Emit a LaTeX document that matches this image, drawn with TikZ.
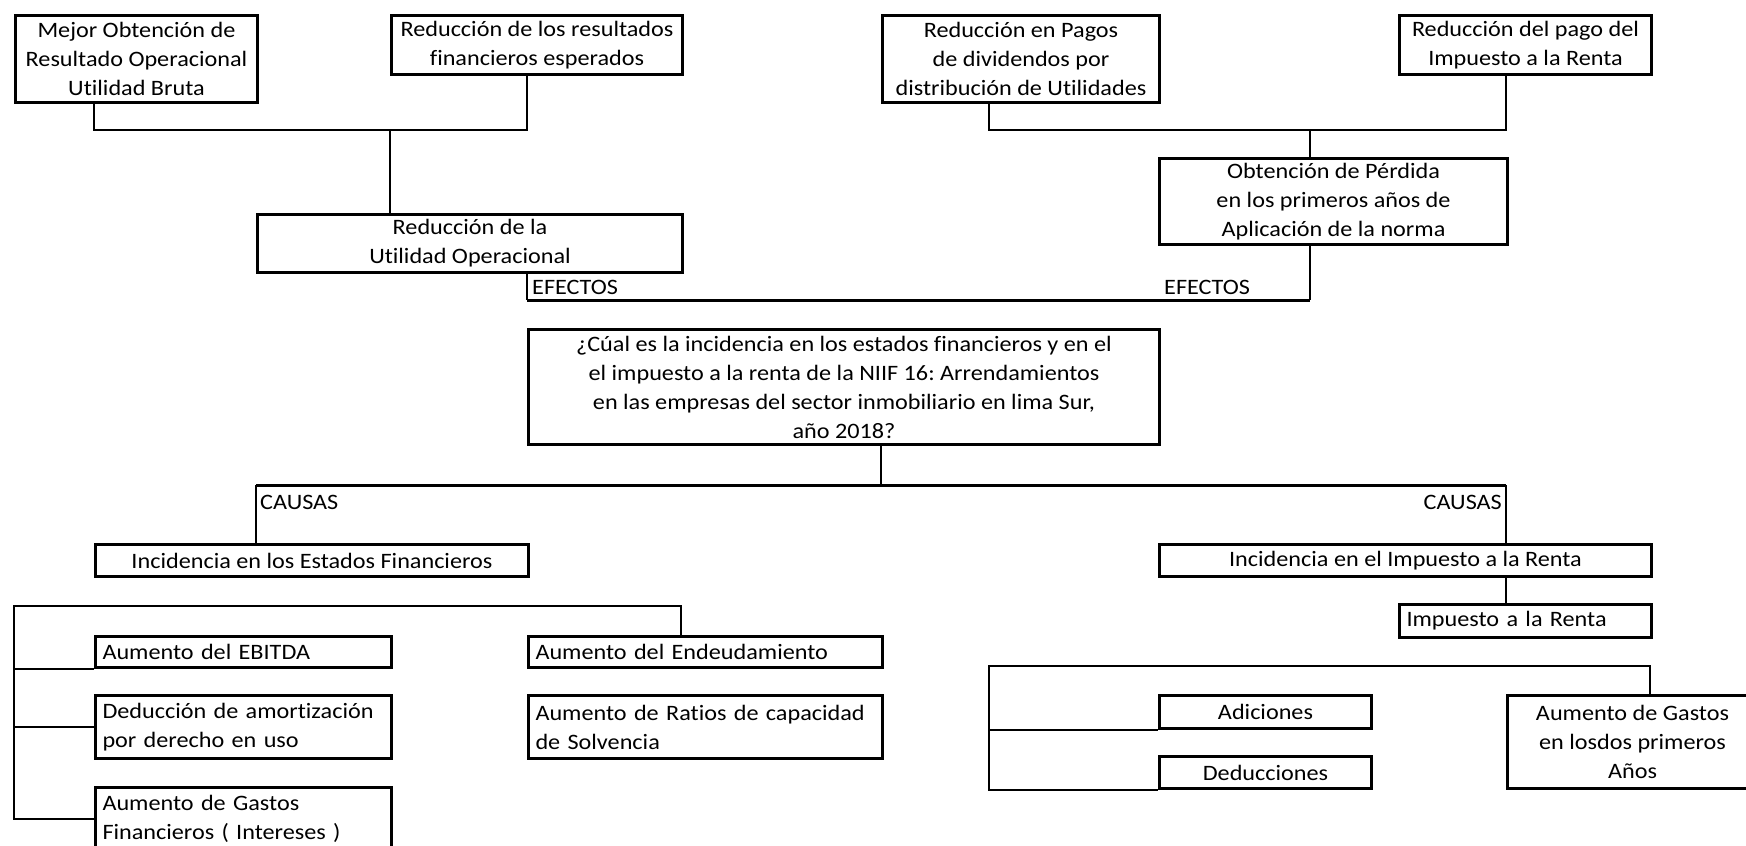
\documentclass[tikz,border=0pt]{standalone}
\usepackage{fontspec}
\setmainfont{Carlito}[FakeStretch=1.1, Ligatures=NoCommon]
\usepackage{tikz}
\frenchspacing

\begin{document}
\begin{tikzpicture}[x=1pt,y=-1pt,
    every node/.style={font=\fontsize{22}{29}\selectfont},
    caja/.style={draw, line width=3pt, anchor=north west, inner sep=0pt, align=center},
    izq/.style={caja, align=left, inner xsep=7pt},
    linea/.style={line width=1.8pt},
    grueso/.style={line width=3pt},
    etq/.style={inner sep=2pt}]
  \useasboundingbox (0,0) rectangle (1746,846);
  \clip (0,0) rectangle (1746,846);
  % efectos
  \node[caja, minimum width=242pt, minimum height=87pt] (A) at (14,14) {Mejor Obtención de\\Resultado Operacional\\Utilidad Bruta};
  \node[caja, minimum width=291pt, minimum height=59pt] (B) at (390,14) {Reducción de los resultados\\financieros esperados};
  \node[caja, minimum width=277pt, minimum height=87pt] (C) at (881,14) {Reducción en Pagos\\de dividendos por\\distribución de Utilidades};
  \node[caja, minimum width=252pt, minimum height=59pt] (D) at (1398,14) {Reducción del pago del\\Impuesto a la Renta};
  \node[caja, minimum width=425pt, minimum height=58pt] (E) at (256,213) {Reducción de la\\Utilidad Operacional};
  \node[caja, minimum width=348pt, minimum height=86pt] (F) at (1158,157) {Obtención de Pérdida\\en los primeros años de\\Aplicación de la norma};
  % problema
  \node[caja, minimum width=631pt, minimum height=115pt] (G) at (527,328) {¿Cúal es la incidencia en los estados financieros y en el\\el impuesto a la renta de la NIIF 16: Arrendamientos\\en las empresas del sector inmobiliario en lima Sur,\\año 2018?};
  % causas
  \node[caja, minimum width=433pt, minimum height=32pt] (H) at (94,543) {Incidencia en los Estados Financieros};
  \node[caja, minimum width=492pt, minimum height=32pt] (I) at (1158,543) {Incidencia en el Impuesto a la Renta};
  \node[izq, text width=282pt, minimum height=31pt] (J) at (94,635) {Aumento del EBITDA};
  \node[izq, text width=282pt, minimum height=63pt] (K) at (94,694) {Deducción de amortización\\por derecho en uso};
  \node[izq, text width=282pt, minimum height=63pt] (L) at (94,786) {Aumento de Gastos\\Financieros ( Intereses )};
  \node[izq, text width=340pt, minimum height=31pt] (M) at (527,635) {Aumento del Endeudamiento};
  \node[izq, text width=340pt, minimum height=63pt] (N) at (527,694) {Aumento de Ratios de capacidad\\de Solvencia};
  \node[izq, text width=238pt, minimum height=33pt] (O) at (1398,603) {Impuesto a la Renta};
  \node[caja, minimum width=212pt, minimum height=33pt] (P) at (1158,694) {Adiciones};
  \node[caja, minimum width=212pt, minimum height=32pt] (Q) at (1158,755) {Deducciones};
  \node[caja, minimum width=250pt, minimum height=93pt] (R) at (1506,694) {Aumento de Gastos\\en losdos primeros\\Años};

  \coordinate (j1) at (390,130);
  \coordinate (j2) at (1310,130);
  \draw[linea] (A.south -| 94,0) |- (j1) -| (B.south -| 527,0);
  \draw[linea] (j1) -- (j1 |- E.north);
  \draw[linea] (C.south -| 989,0) |- (j2) -| (D.south -| 1506,0);
  \draw[linea] (j2) -- (j2 |- F.north);

  \coordinate (e1) at (527,300);
  \coordinate (e2) at (1310,300);
  \draw[linea] (E.south -| e1) -- (e1);
  \draw[grueso] (e1) -- (e2);
  \draw[linea] (e2) -- (e2 |- F.south);
  \node[etq, anchor=south west] (t1) at (530,297) {EFECTOS};
  \node[etq, anchor=south west] (t2) at (1162,297) {EFECTOS};

  \coordinate (c0) at (881,485);
  \coordinate (c1) at (256,485);
  \coordinate (c2) at (1506,485);
  \draw[linea] (G.south -| c0) -- (c0);
  \draw[grueso] (c1) -- (c2);
  \draw[linea] (c1) -- (c1 |- H.north);
  \draw[linea] (c2) -- (c2 |- I.north);
  \node[etq, anchor=north west] (t3) at (258,493) {CAUSAS};
  \node[etq, anchor=north east] (t4) at (1504,493) {CAUSAS};
  \draw[linea] (I.south -| c2) -- (O.north -| c2);

  \coordinate (b1) at (14,606);
  \draw[linea] (M.north -| 681,0) |- (b1) |- (L.west);
  \draw[linea] (J.south west -| b1) -- (J.south west);
  \draw[linea] (K.west -| b1) -- (K.west);

  \coordinate (b2) at (989,666);
  \draw[linea] (R.north -| 1650,0) |- (b2) |- (Q.south west);
  \draw[linea] (P.south west -| b2) -- (P.south west);
\end{tikzpicture}
\end{document}
